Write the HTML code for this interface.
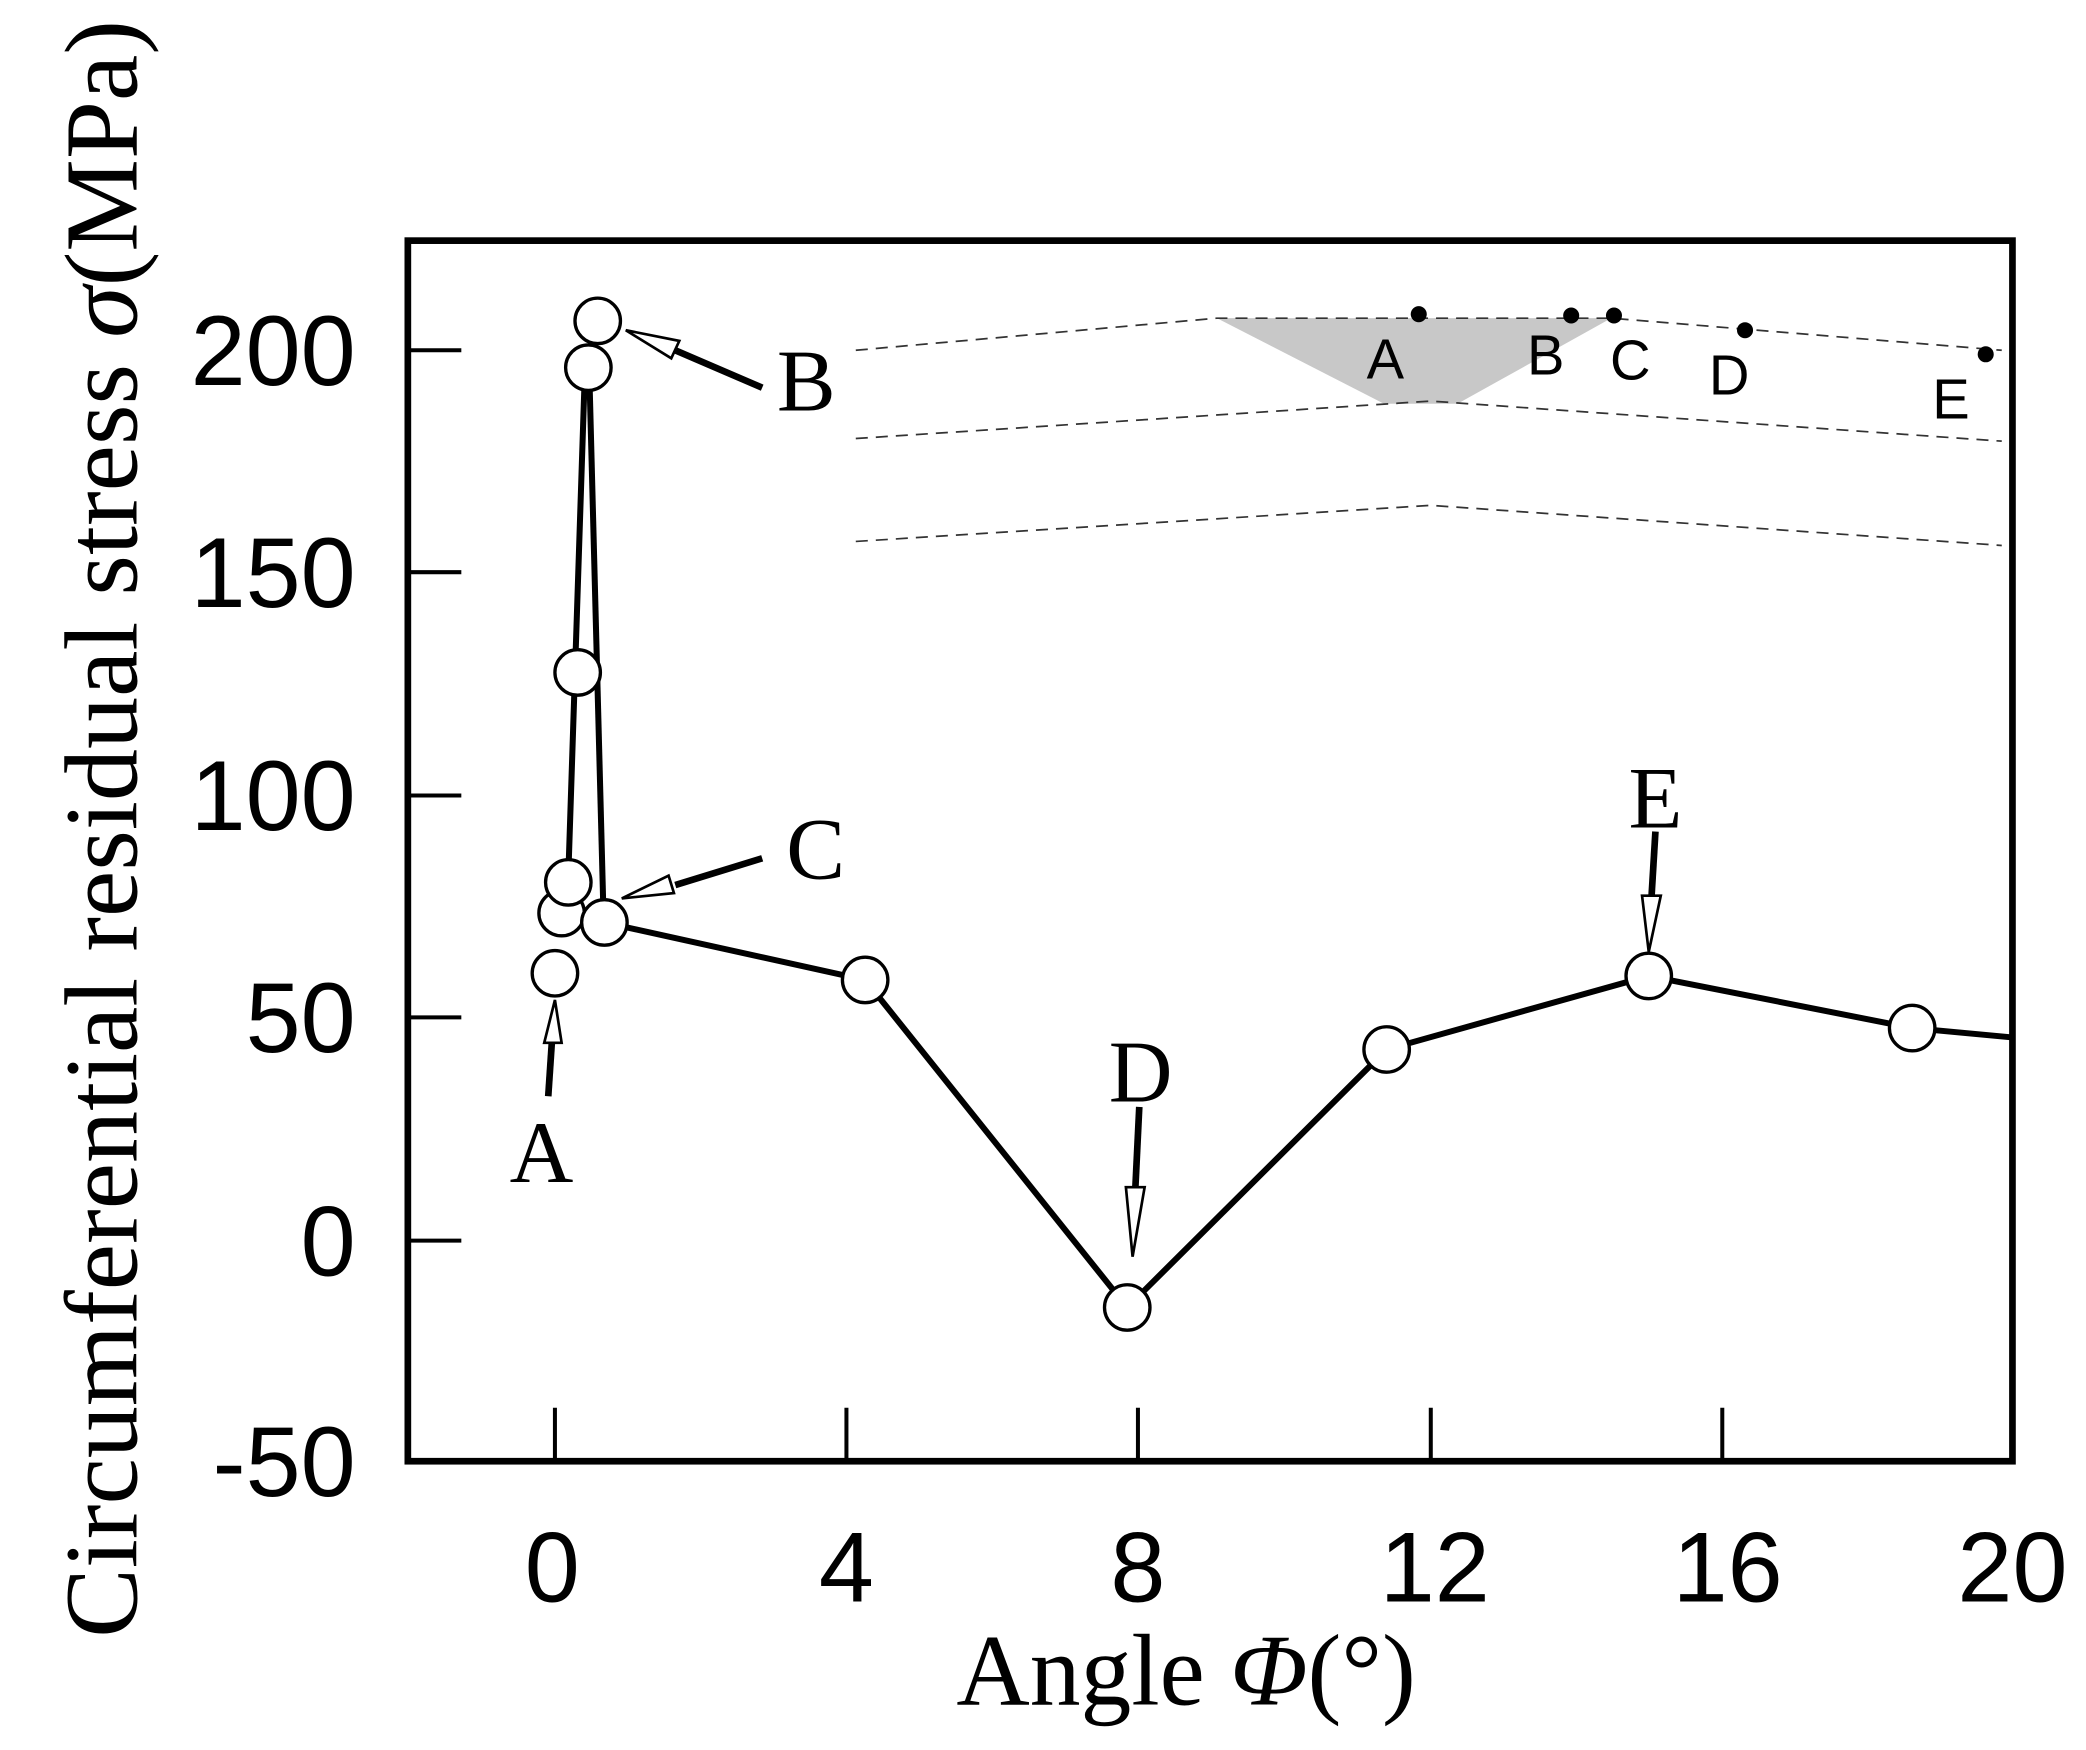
<!DOCTYPE html>
<html><head><meta charset="utf-8"><style>
html,body{margin:0;padding:0;background:#fff;}
svg{display:block}
.t{font-family:"Liberation Sans",Arial,sans-serif;font-size:74px;fill:#000}
.s{font-family:"Liberation Serif","Times New Roman",serif;fill:#000}
.i{font-family:"Liberation Sans",Arial,sans-serif;font-size:42px;fill:#000}
</style></head><body>
<svg width="2086" height="1750" viewBox="0 0 1560 1309" preserveAspectRatio="none" xmlns="http://www.w3.org/2000/svg">
<rect width="1560" height="1309" fill="#fff"/>
<polygon points="910,238 1205,238 1090,302 1035,302" fill="#c8c8c8"/>
<g fill="none" stroke="#333" stroke-width="1.3" stroke-dasharray="9,6">
<polyline points="640,262 910,238 1205,238 1497,262"/>
<polyline points="640,328 1070,300 1497,330"/>
<polyline points="640,405 1070,378 1497,408"/>
</g>
<g fill="#000"><circle cx="1061" cy="235" r="6"/><circle cx="1175" cy="236" r="6"/><circle cx="1207" cy="236" r="6"/><circle cx="1305" cy="247" r="6"/><circle cx="1485" cy="265" r="6"/></g>
<g class="i"><text x="1022" y="283">A</text><text x="1142" y="280">B</text><text x="1204" y="284">C</text><text x="1278" y="295">D</text><text x="1445" y="313">E</text></g>
<g stroke="#000" fill="none">
<rect x="305" y="180" width="1200" height="913" stroke-width="5"/>
<g stroke-width="3">
<line x1="305" y1="262" x2="345" y2="262"/><line x1="305" y1="428" x2="345" y2="428"/><line x1="305" y1="595" x2="345" y2="595"/><line x1="305" y1="761" x2="345" y2="761"/><line x1="305" y1="928" x2="345" y2="928"/>
<line x1="415" y1="1093" x2="415" y2="1053"/><line x1="633" y1="1093" x2="633" y2="1053"/><line x1="851" y1="1093" x2="851" y2="1053"/><line x1="1070" y1="1093" x2="1070" y2="1053"/><line x1="1288" y1="1093" x2="1288" y2="1053"/>
</g></g>
<g class="t" text-anchor="end">
<text x="266" y="288">200</text><text x="266" y="454">150</text><text x="266" y="621">100</text><text x="266" y="787">50</text><text x="266" y="954">0</text><text x="266" y="1119">-50</text>
</g>
<g class="t" text-anchor="middle">
<text x="413" y="1198">0</text><text x="633" y="1198">4</text><text x="851" y="1198">8</text><text x="1073" y="1198">12</text><text x="1292" y="1198">16</text><text x="1505" y="1198">20</text>
</g>
<text class="s" font-size="78" text-anchor="middle" transform="translate(102,620) rotate(-90)">Circumferential residual stress <tspan font-style="italic">σ</tspan>(MPa)</text>
<text class="s" font-size="76" x="887" y="1275" text-anchor="middle">Angle <tspan font-style="italic">Φ</tspan>(°)</text>
<g stroke="#000" stroke-width="4.5" fill="none">
<polyline points="420,683 425,655 437,290"/>
<polyline points="441,290 451,672"/>
<polyline points="452,690 647,733 843,978 1037,785 1233,730 1430,769 1505,776"/>
</g>
<g fill="#fff" stroke="#000" stroke-width="2.5">
<circle cx="415" cy="728" r="17"/><circle cx="420" cy="683" r="17"/><circle cx="425" cy="660" r="17"/><circle cx="432" cy="503" r="17"/><circle cx="440" cy="275" r="17"/><circle cx="447" cy="240" r="17"/><circle cx="452" cy="690" r="17"/><circle cx="647" cy="733" r="17"/><circle cx="843" cy="978" r="17"/><circle cx="1037" cy="785" r="17"/><circle cx="1233" cy="730" r="17"/><circle cx="1430" cy="769" r="17"/>
</g>
<g stroke="#000" stroke-width="5" fill="none">
<line x1="410" y1="820" x2="413" y2="775"/>
<line x1="570" y1="290" x2="505" y2="262"/>
<line x1="570" y1="642" x2="505" y2="662"/>
<line x1="852" y1="828" x2="849" y2="890"/>
<line x1="1238" y1="622" x2="1235" y2="672"/>
</g>
<g fill="#fff" stroke="#000" stroke-width="2">
<polygon points="415,748 407,780 420,780"/>
<polygon points="468,247 508,255 502,268"/>
<polygon points="465,672 500,655 504,668"/>
<polygon points="847,940 842,888 856,888"/>
<polygon points="1233,712 1228,670 1242,670"/>
</g>
<g class="s" font-size="66" text-anchor="middle">
<text x="405" y="884">A</text><text x="603" y="307">B</text><text x="610" y="657">C</text><text x="853" y="824">D</text><text x="1238" y="619">E</text>
</g>
</svg>
</body></html>
